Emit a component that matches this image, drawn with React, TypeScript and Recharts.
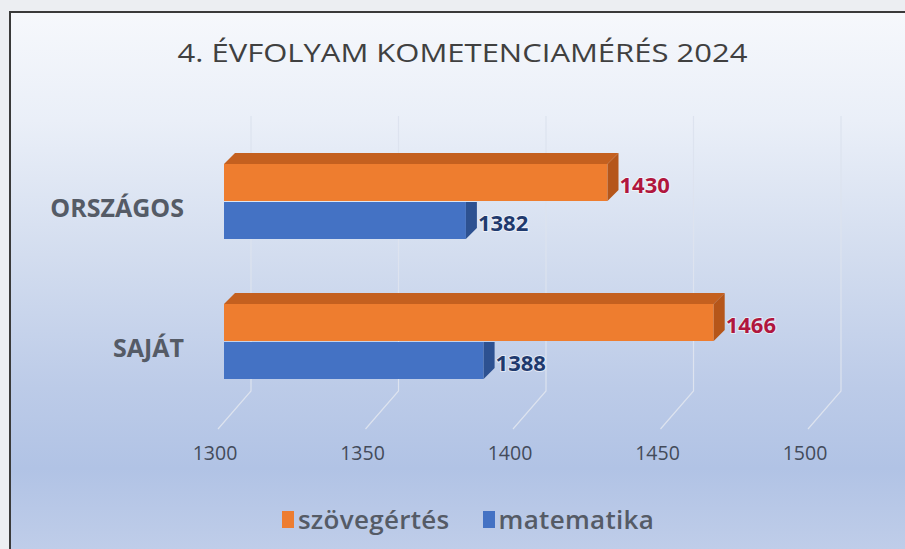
import React from 'react'
import { BarChart, Bar, XAxis, YAxis, CartesianGrid, Legend, LabelList } from 'recharts'

const categories = ['ORSZÁGOS', 'SAJÁT']
const szovegertes = [1430, 1466]
const matematika = [1382, 1388]
const xTicks = [1300, 1350, 1400, 1450, 1500]

const data = categories.map((name, i) => ({
  name,
  szovegertes: szovegertes[i],
  matematika: matematika[i]
}))

const FONT = '"Open Sans", "Noto Sans", sans-serif'
const DEPTH = 11

// front face, right side and (optionally) the top face of a 3D bar
const Prism = (props: any) => {
  const { x, y, width, height, front, side, top, showTop } = props
  if (width == null || width <= 0) return null
  const d = DEPTH
  const r = x + width
  return (
    <g>
      {showTop && (
        <polygon
          points={`${x},${y} ${x + d},${y - d} ${r + d},${y - d} ${r},${y}`}
          fill={top}
        />
      )}
      <rect x={x} y={y} width={width} height={height} fill={front} />
      <polygon
        points={
          showTop
            ? `${r},${y} ${r + d},${y - d} ${r + d},${y + height - d} ${r},${y + height}`
            : `${r},${y} ${r + d},${y} ${r + d},${y + height - d} ${r},${y + height}`
        }
        fill={side}
      />
    </g>
  )
}

const valueLabel = (color: string) => (props: any) => {
  const { x, y, width, height, value } = props
  return (
    <text
      x={x + width + DEPTH + 1}
      y={y + height / 2 + 1}
      dominantBaseline="central"
      fill={color}
      stroke="rgba(255,255,255,0.55)"
      strokeWidth={2}
      paintOrder="stroke"
      fontFamily={FONT}
      fontWeight={700}
      fontSize={22}
    >
      {value}
    </text>
  )
}

const XTick = (props: any) => {
  const { x, y, payload } = props
  return (
    <text
      x={x - 9}
      y={y + 33}
      textAnchor="middle"
      dominantBaseline="central"
      fill="#434b5a"
      fontFamily={FONT}
      fontWeight={500}
      fontSize={19.5}
    >
      {payload.value}
    </text>
  )
}

const YTick = (props: any) => {
  const { x, y, payload } = props
  return (
    <text
      x={x - 38}
      y={y + 6}
      textAnchor="end"
      dominantBaseline="central"
      fill="#555b66"
      fontFamily={FONT}
      fontWeight={700}
      fontSize={25}
    >
      {payload.value}
    </text>
  )
}

// slanted 3D gridline: back wall line plus the floor segment
const GridLine = (props: any) => {
  const { x1, y1, y2 } = props
  return (
    <path
      d={`M${x1 + 27},${y1 - 15} L${x1 + 27},${y2 - 20} L${x1 - 6},${y2 + 18}`}
      fill="none"
      stroke="#dde3ef"
      strokeWidth={1.2}
    />
  )
}

const legendItems = [
  { label: 'szövegértés', color: '#ed7d31' },
  { label: 'matematika', color: '#4472c4' }
]

const LegendContent = () => (
  <div
    style={{
      display: 'flex',
      justifyContent: 'center',
      gap: 33,
      height: 34,
      paddingLeft: 31,
      alignItems: 'center',
      fontFamily: FONT,
      fontSize: 26,
      fontWeight: 600,
      letterSpacing: 0.3,
      color: '#555b66'
    }}
  >
    {legendItems.map((it) => (
      <div key={it.label} style={{ display: 'flex', alignItems: 'center', gap: 4 }}>
        <span style={{ width: 12, height: 17, background: it.color, display: 'inline-block' }} />
        <span>{it.label}</span>
      </div>
    ))}
  </div>
)

export default function App() {
  return (
    <div
      style={{
        position: 'absolute',
        left: 0,
        top: 0,
        width: 905,
        height: 549,
        background: '#eceef2',
        overflow: 'hidden'
      }}
    >
      <div
        style={{
          position: 'absolute',
          left: 9,
          top: 11,
          right: 0,
          bottom: 0,
          borderTop: '2px solid #3a3a3a',
          borderLeft: '2px solid #3a3a3a',
          background:
            'linear-gradient(180deg, #f6f8fc 0%, #eaeff8 20%, #d3ddef 45%, #bccbe8 70%, #b1c3e5 85%, #bfcde9 100%)'
        }}
      />
      <div
        style={{
          position: 'absolute',
          left: 0,
          top: 35,
          width: 925,
          textAlign: 'center',
          fontFamily: FONT,
          fontSize: 25,
          color: '#404040',
          transform: 'scaleX(1.24)',
          transformOrigin: '462.5px 0'
        }}
      >
        4. ÉVFOLYAM KOMETENCIAMÉRÉS 2024
      </div>
      <div style={{ position: 'absolute', left: 0, top: 0 }}>
        <BarChart
          width={905}
          height={549}
          layout="vertical"
          data={data}
          margin={{ top: 131, right: 91, left: 0, bottom: 13 }}
          barSize={37}
          barGap={1}
        >
          <CartesianGrid horizontal={false} vertical={GridLine} />
          <XAxis
            type="number"
            domain={[1300, 1500]}
            ticks={xTicks}
            axisLine={false}
            tickLine={false}
            tick={XTick}
            height={91}
          />
          <YAxis
            type="category"
            dataKey="name"
            width={224}
            axisLine={false}
            tickLine={false}
            tickSize={0}
            tick={YTick}
          />
          <Legend
            verticalAlign="bottom"
            content={LegendContent}
            wrapperStyle={{ left: 0, width: 905 }}
          />
          <Bar
            dataKey="szovegertes"
            name="szövegértés"
            fill="#ed7d31"
            isAnimationActive={false}
            shape={(p: any) => (
              <Prism {...p} front="#ee7d2f" side="#b5561a" top="#c4601f" showTop />
            )}
          >
            <LabelList dataKey="szovegertes" content={valueLabel('#b0163e')} />
          </Bar>
          <Bar
            dataKey="matematika"
            name="matematika"
            fill="#4472c4"
            isAnimationActive={false}
            shape={(p: any) => (
              <Prism {...p} front="#4472c4" side="#2d5191" top="#3a63ad" showTop={false} />
            )}
          >
            <LabelList dataKey="matematika" content={valueLabel('#1f3a6e')} />
          </Bar>
        </BarChart>
      </div>
    </div>
  )
}
